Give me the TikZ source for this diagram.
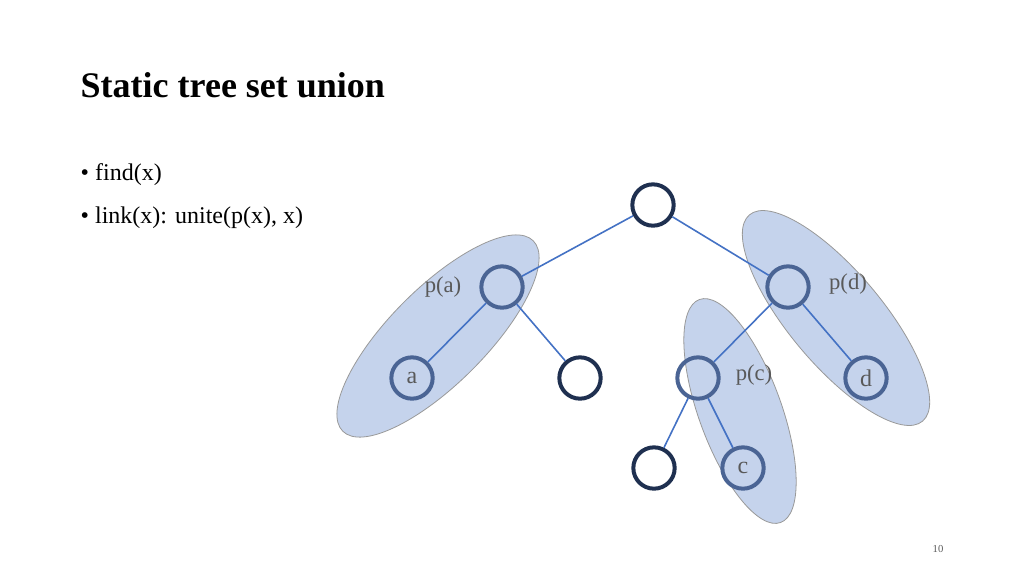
\documentclass[tikz,border=0pt]{standalone}
\usepackage{fontspec}
\setmainfont{Liberation Serif}
\definecolor{edgeblue}{HTML}{4472C4}
\definecolor{darknode}{HTML}{1F3050}
\definecolor{lightnode}{HTML}{4A6494}
\definecolor{groupfill}{HTML}{C5D3EC}
\definecolor{textgray}{HTML}{595959}
\begin{document}
\begin{tikzpicture}[x=0.75pt,y=-0.75pt]
\tikzset{
  dark/.style={circle,draw=darknode,line width=3pt,minimum size=31pt,inner sep=0pt},
  light/.style={circle,draw=lightnode,line width=3pt,minimum size=31pt,inner sep=0pt,text=textgray,font=\fontsize{18}{18}\selectfont},
  group/.style={fill=groupfill,draw=gray!80,line width=0.6pt},
  tag/.style={text=textgray,font=\fontsize{17}{17}\selectfont}
}
\useasboundingbox (0,0) rectangle (1024,576);
% groups
\draw [group] (438,336) ellipse [x radius=101pt,y radius=36pt,rotate=45];
\draw [group] (836,318) ellipse [x radius=101pt,y radius=35pt,rotate=-50];
\draw [group] (740,411) ellipse [x radius=89pt,y radius=31pt,rotate=-70];
% title and bullets
\node [anchor=west,font=\bfseries\fontsize{27}{27}\selectfont] (title) at (76,85) {Static tree set union};
\node [anchor=west,font=\fontsize{18}{18}\selectfont] (b1) at (76,175) {\textbullet\ find(x)};
\node [anchor=west,font=\fontsize{18}{18}\selectfont] (b2) at (76,218) {\textbullet\ link(x): unite(p(x), x)};
\node [text=textgray,font=\fontsize{8}{8}\selectfont] (page) at (938,549) {10};
% tree
\node [dark] (root) at (653,205) {};
\node [light] (pa) at (502,287) {};
\node [light] (pd) at (788,287) {};
\node [light] (a) at (412,378) {a};
\node [dark] (n2) at (580,378) {};
\node [light] (pc) at (698,378) {};
\node [light] (d) at (866,378) {d};
\node [dark] (leaf) at (654,468) {};
\node [light] (c) at (743,468) {c};
\foreach \u/\v in {root/pa,root/pd,pa/a,pa/n2,pd/pc,pd/d,pc/leaf,pc/c}
  \draw [edgeblue,line width=1.2pt] (\u) -- (\v);
% labels
\node [tag] (la) at (443,287) {p(a)};
\node [tag] (ld) at (848,284) {p(d)};
\node [tag] (lc) at (754,375) {p(c)};
\end{tikzpicture}
\end{document}
